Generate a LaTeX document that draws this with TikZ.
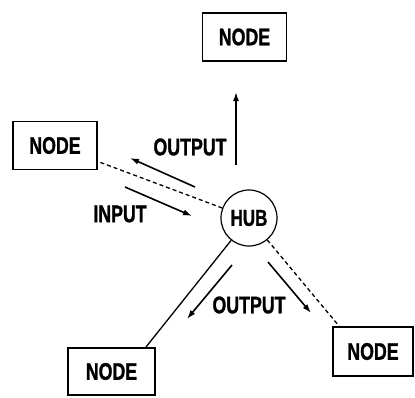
\documentclass[tikz,border=0pt]{standalone}
\usepackage{fontspec}
\newfontfamily\lbl[FakeStretch=0.74,BoldFeatures={FakeBold=1.2}]{Liberation Sans}
\usetikzlibrary{arrows.meta,calc}
\begin{document}
\begin{tikzpicture}[x=1pt,y=-1pt,
  box/.style={draw,line width=1.8pt,minimum width=84pt,minimum height=48pt,inner sep=0pt,font=\lbl\bfseries\fontsize{24}{24}\selectfont},
  hubnode/.style={draw,circle,line width=1.2pt,minimum size=56pt,inner sep=0pt,font=\lbl\bfseries\fontsize{23}{23}\selectfont},
  lab/.style={font=\lbl\bfseries\fontsize{24}{24}\selectfont,inner sep=0pt},
  link/.style={line width=1.3pt},
  flow/.style={line width=1.6pt,-{Latex[length=9pt,width=6pt]}}]
\path[use as bounding box,fill=white] (0,0) rectangle (415,397);
\node[box] (top) at (244.5,37) {NODE};
\node[box] (left) at (55,145.5) {NODE};
\node[box,minimum width=87pt,minimum height=47pt] (bl) at (111.5,371.5) {NODE};
\node[box,minimum width=80pt,minimum height=49pt] (rt) at (373,351.5) {NODE};
\node[hubnode] (hub) at (249,218) {HUB};
% connectors
\draw[link,dashed,dash pattern=on 4pt off 3pt] (hub) -- (left);
\draw[link] (hub) -- ([xshift=-10pt]bl.north east);
\draw[link,dashed,dash pattern=on 4pt off 3pt] (hub) -- ([xshift=7pt]rt.north west);
% flow arrows
\coordinate (a1s) at (236,165); \coordinate (a1e) at (236,92);
\draw[flow] (a1s) -- (a1e);
\coordinate (a2s) at (195,187); \coordinate (a2e) at (130,158);
\draw[flow] (a2s) -- (a2e);
\coordinate (a3s) at (125,187); \coordinate (a3e) at (192,216);
\draw[flow] (a3s) -- (a3e);
\coordinate (a4s) at (232,265); \coordinate (a4e) at (187,319);
\draw[flow] (a4s) -- (a4e);
\coordinate (a5s) at (268,262); \coordinate (a5e) at (311,313);
\draw[flow] (a5s) -- (a5e);
% labels
\node[lab] (l1) at (190,147) {OUTPUT};
\node[lab] (l2) at (120,214) {INPUT};
\node[lab] (l3) at (249,305) {OUTPUT};
\end{tikzpicture}
\end{document}
